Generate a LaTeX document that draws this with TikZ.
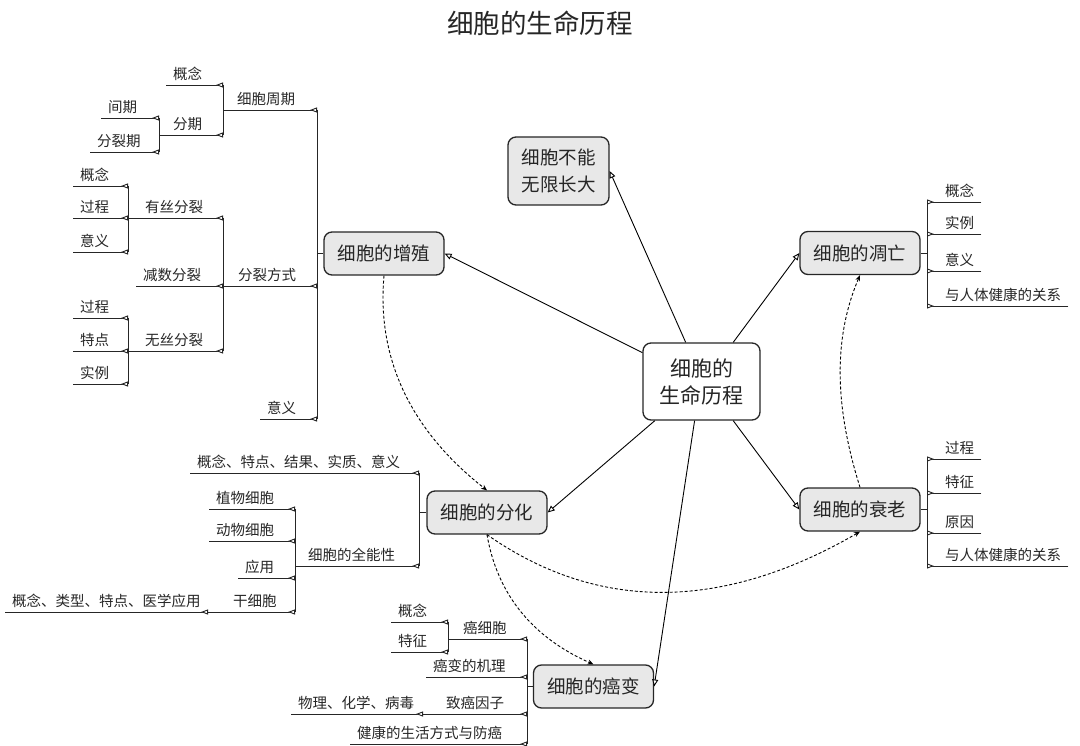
\documentclass[tikz,border=0pt]{standalone}
\usepackage{fontspec}
\setmainfont{Noto Sans CJK SC}
\usetikzlibrary{arrows.meta}
\definecolor{boxgray}{RGB}{232,232,232}
\definecolor{inkgray}{RGB}{38,38,38}

\begin{document}
\begin{tikzpicture}[x=1pt,y=-1pt,
  topic/.style={draw=inkgray, line width=1.3pt, rounded corners=8pt, fill=boxgray,
    minimum width=120pt, minimum height=43pt, text=inkgray, font=\fontsize{18.5}{22}\selectfont},
  hub/.style={topic, fill=white, minimum width=117pt, minimum height=77pt, align=center,
    font=\fontsize{21}{27}\selectfont},
  lbl/.style={anchor=south west, inner xsep=7pt, inner ysep=4pt, text=inkgray,
    font=\fontsize{14.5}{17}\selectfont},
  twig/.style={draw=inkgray, line width=0.9pt, -{Triangle[reversed, fill=white, length=7pt, width=5pt]}},
  forkline/.style={draw=inkgray, line width=0.9pt},
  link/.style={draw=black, line width=0.9pt, -{Triangle[fill=white, length=7pt, width=6pt]}},
  hint/.style={draw=black, line width=0.9pt, dash pattern=on 3pt off 2pt, -{Stealth[length=6pt, width=5pt]}}]
\useasboundingbox (0,0) rectangle (1080,746);

\node[text=inkgray, font=\fontsize{26.5}{30}\selectfont] (title) at (540,23) {细胞的生命历程};

\node[hub] (hub) at (701.5,381.5) {细胞的\\生命历程};
\node[topic] (prolif) at (384,253.5) {细胞的增殖};
\node[topic, minimum width=101pt, minimum height=68pt, align=center, font=\fontsize{18.5}{27}\selectfont] (limit) at (558.5,171) {细胞不能\\无限长大};
\node[topic] (apop) at (860,253) {细胞的凋亡};
\node[topic] (aging) at (860,509.5) {细胞的衰老};
\node[topic] (diff) at (487,512.5) {细胞的分化};
\node[topic] (cancer) at (593.5,686.5) {细胞的癌变};

\draw[link] (hub.154) -- (prolif.east);
\draw[link] (hub.112.7) -- (limit.east);
\draw[link] (hub.51.4) -- (apop.west);
\draw[link] (hub.-51.4) -- (aging.west);
\draw[link] (hub.-140.4) -- (diff.east);
\draw[link] (hub.260.7) -- (cancer.east);

\draw[hint] (prolif.south) .. controls +(-8,90) and +(-70,-55) .. (diff.north);
\draw[hint] (diff.south) .. controls +(120,84) and +(-126,73) .. (aging.south);
\draw[hint] (diff.south) .. controls +(12,70) and +(-50,-22) .. (cancer.north);
\draw[hint] (aging.north) .. controls +(-22,-70) and +(-30,70) .. (apop.south);

% 细胞的增殖
\coordinate (brkA) at (317,253.5);
\coordinate (brkA1) at (223,110);
\coordinate (brkA11) at (159,135);
\coordinate (brkA2) at (223,286);
\coordinate (brkA21) at (128,218);
\coordinate (brkA22) at (128,351);
\node[lbl] (cyc) at (230,110) {细胞周期};
\node[lbl] (cycA) at (166,85) {概念};
\node[lbl] (cycB) at (166,135) {分期};
\node[lbl] (cycB1) at (101,118) {间期};
\node[lbl] (cycB2) at (90,152) {分裂期};
\node[lbl] (mode) at (231,286) {分裂方式};
\node[lbl] (mit) at (138,218) {有丝分裂};
\node[lbl] (mitA) at (73,186) {概念};
\node[lbl] (mitB) at (73,218) {过程};
\node[lbl] (mitC) at (73,252) {意义};
\node[lbl] (mei) at (136,286) {减数分裂};
\node[lbl] (ami) at (138,351) {无丝分裂};
\node[lbl] (amiA) at (73,318) {过程};
\node[lbl] (amiB) at (73,351) {特点};
\node[lbl] (amiC) at (73,384) {实例};
\node[lbl] (proM) at (260,419) {意义};

\draw[forkline] (prolif.west) -- (brkA);
\draw[forkline] (brkA1 -| brkA) -- (proM.south west -| brkA);
\draw[twig] (brkA1) -- (brkA1 -| brkA);
\draw[twig] (brkA2) -- (brkA2 -| brkA);
\draw[twig] (proM.south west) -- (proM.south west -| brkA);

\draw[forkline] (cycA.south west -| brkA1) -- (brkA11 -| brkA1);
\draw[twig] (cycA.south west) -- (cycA.south west -| brkA1);
\draw[twig] (brkA11) -- (brkA11 -| brkA1);
\draw[forkline] (cycB1.south west -| brkA11) -- (cycB2.south west -| brkA11);
\draw[twig] (cycB1.south west) -- (cycB1.south west -| brkA11);
\draw[twig] (cycB2.south west) -- (cycB2.south west -| brkA11);

\draw[forkline] (brkA21 -| brkA2) -- (brkA22 -| brkA2);
\draw[twig] (brkA21) -- (brkA21 -| brkA2);
\draw[twig] (mei.south west) -- (mei.south west -| brkA2);
\draw[twig] (brkA22) -- (brkA22 -| brkA2);
\draw[forkline] (mitA.south west -| brkA21) -- (mitC.south west -| brkA21);
\draw[twig] (mitA.south west) -- (mitA.south west -| brkA21);
\draw[twig] (mitB.south west) -- (mitB.south west -| brkA21);
\draw[twig] (mitC.south west) -- (mitC.south west -| brkA21);
\draw[forkline] (amiA.south west -| brkA22) -- (amiC.south west -| brkA22);
\draw[twig] (amiA.south west) -- (amiA.south west -| brkA22);
\draw[twig] (amiB.south west) -- (amiB.south west -| brkA22);
\draw[twig] (amiC.south west) -- (amiC.south west -| brkA22);

% 细胞的分化
\coordinate (brkB) at (419,512.5);
\coordinate (brkB1) at (295,566);
\coordinate (brkB11) at (208,612);
\node[lbl] (difA) at (190,473) {概念、特点、结果、实质、意义};
\node[lbl] (tot) at (301,566) {细胞的全能性};
\node[lbl] (plant) at (209,509) {植物细胞};
\node[lbl] (animal) at (209,541) {动物细胞};
\node[lbl] (appl) at (238,578) {应用};
\node[lbl] (stem) at (226,612) {干细胞};
\node[lbl] (stemA) at (5,612) {概念、类型、特点、医学应用};

\draw[forkline] (diff.west) -- (brkB);
\draw[forkline] (difA.south west -| brkB) -- (brkB1 -| brkB);
\draw[twig] (difA.south west) -- (difA.south west -| brkB);
\draw[twig] (brkB1) -- (brkB1 -| brkB);
\draw[forkline] (plant.south west -| brkB1) -- (brkB11 -| brkB1);
\draw[twig] (plant.south west) -- (plant.south west -| brkB1);
\draw[twig] (animal.south west) -- (animal.south west -| brkB1);
\draw[twig] (appl.south west) -- (appl.south west -| brkB1);
\draw[twig] (brkB11) -- (brkB11 -| brkB1);
\draw[twig] (stemA.south west) -- (brkB11);

% 细胞的癌变
\coordinate (brkC) at (527,686.5);
\coordinate (brkC1) at (448,639);
\coordinate (brkC2) at (423,714);
\node[lbl] (ccell) at (456,639) {癌细胞};
\node[lbl] (ccellA) at (391,622) {概念};
\node[lbl] (ccellB) at (391,652) {特征};
\node[lbl] (mech) at (426,677) {癌变的机理};
\node[lbl] (cause) at (439,714) {致癌因子};
\node[lbl] (causeA) at (291,714) {物理、化学、病毒};
\node[lbl] (life) at (350,744) {健康的生活方式与防癌};

\draw[forkline] (cancer.west) -- (brkC);
\draw[forkline] (brkC1 -| brkC) -- (life.south west -| brkC);
\draw[twig] (brkC1) -- (brkC1 -| brkC);
\draw[twig] (mech.south west) -- (mech.south west -| brkC);
\draw[twig] (brkC2) -- (brkC2 -| brkC);
\draw[twig] (life.south west) -- (life.south west -| brkC);
\draw[forkline] (ccellA.south west -| brkC1) -- (ccellB.south west -| brkC1);
\draw[twig] (ccellA.south west) -- (ccellA.south west -| brkC1);
\draw[twig] (ccellB.south west) -- (ccellB.south west -| brkC1);
\draw[twig] (causeA.south west) -- (brkC2);

% 细胞的凋亡
\coordinate (brkD) at (927,253);
\node[lbl] (apA) at (938,202) {概念};
\node[lbl] (apB) at (938,234) {实例};
\node[lbl] (apC) at (938,271) {意义};
\node[lbl] (apD) at (938,306) {与人体健康的关系};
\draw[forkline] (apop.east) -- (brkD);
\draw[forkline] (apA.south east -| brkD) -- (apD.south east -| brkD);
\draw[twig] (apA.south east) -- (apA.south east -| brkD);
\draw[twig] (apB.south east) -- (apB.south east -| brkD);
\draw[twig] (apC.south east) -- (apC.south east -| brkD);
\draw[twig] (apD.south east) -- (apD.south east -| brkD);

% 细胞的衰老
\coordinate (brkE) at (927,509.5);
\node[lbl] (agA) at (938,459) {过程};
\node[lbl] (agB) at (938,493) {特征};
\node[lbl] (agC) at (938,533) {原因};
\node[lbl] (agD) at (938,566) {与人体健康的关系};
\draw[forkline] (aging.east) -- (brkE);
\draw[forkline] (agA.south east -| brkE) -- (agD.south east -| brkE);
\draw[twig] (agA.south east) -- (agA.south east -| brkE);
\draw[twig] (agB.south east) -- (agB.south east -| brkE);
\draw[twig] (agC.south east) -- (agC.south east -| brkE);
\draw[twig] (agD.south east) -- (agD.south east -| brkE);
\end{tikzpicture}
\end{document}
